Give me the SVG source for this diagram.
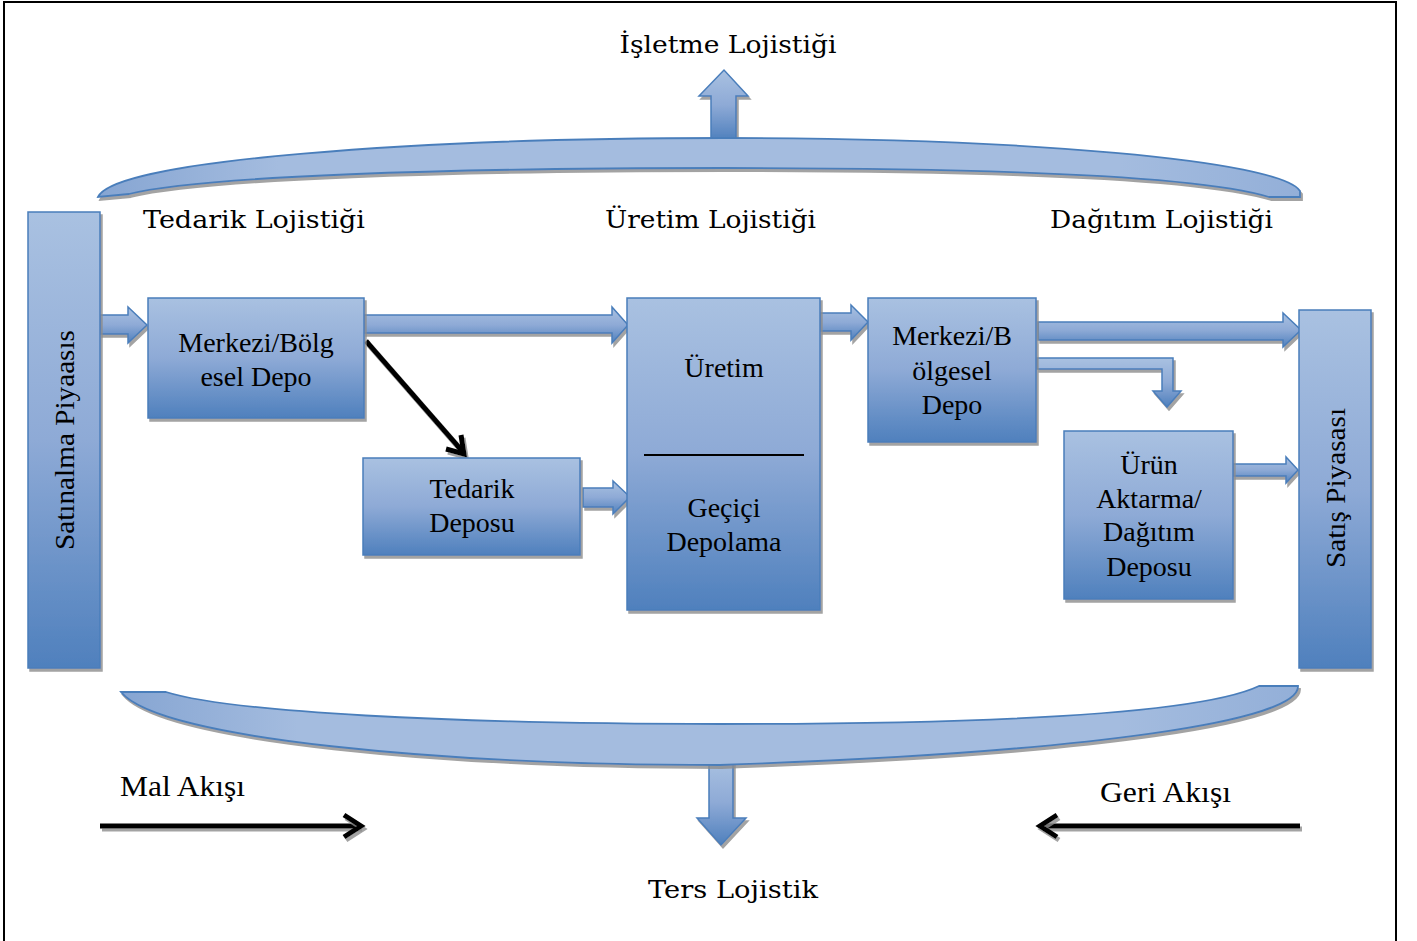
<svg xmlns="http://www.w3.org/2000/svg" width="1417" height="941" viewBox="0 0 1417 941">
  <defs>
    <linearGradient id="blueV" x1="0" y1="0" x2="0" y2="1">
      <stop offset="0" stop-color="#a9c1e1"/>
      <stop offset="0.5" stop-color="#8eaad6"/>
      <stop offset="1" stop-color="#4f80bd"/>
    </linearGradient>
    <linearGradient id="bandGrad" x1="0" y1="0" x2="1" y2="0">
      <stop offset="0" stop-color="#86a5d2"/>
      <stop offset="0.15" stop-color="#a4bcdf"/>
      <stop offset="0.85" stop-color="#a4bcdf"/>
      <stop offset="1" stop-color="#93afd8"/>
    </linearGradient>
    <filter id="shadow" x="-10%" y="-10%" width="130%" height="130%">
      <feOffset in="SourceAlpha" dx="2" dy="3" result="off"/>
      <feGaussianBlur in="off" stdDeviation="0.6" result="blur"/>
      <feFlood flood-color="#8c8c8c" flood-opacity="0.8"/>
      <feComposite in2="blur" operator="in" result="sh"/>
      <feMerge>
        <feMergeNode in="sh"/>
        <feMergeNode in="SourceGraphic"/>
      </feMerge>
    </filter>
    <!-- user-space region so straight horizontal strokes keep their shadow -->
    <filter id="lineShadow" filterUnits="userSpaceOnUse" x="0" y="0" width="1417" height="941">
      <feOffset in="SourceAlpha" dx="2" dy="3" result="off"/>
      <feGaussianBlur in="off" stdDeviation="0.6" result="blur"/>
      <feFlood flood-color="#8c8c8c" flood-opacity="0.8"/>
      <feComposite in2="blur" operator="in" result="sh"/>
      <feMerge>
        <feMergeNode in="sh"/>
        <feMergeNode in="SourceGraphic"/>
      </feMerge>
    </filter>
  </defs>
  <style>
    .box { fill: url(#blueV); stroke: #4a7ebb; stroke-width: 1.5; filter: url(#shadow); }
    .barrow { fill: url(#blueV); stroke: #4a7ebb; stroke-width: 1.5; filter: url(#shadow); }
    .band { fill: url(#bandGrad); stroke: #4a7ebb; stroke-width: 1.8; filter: url(#shadow); }
    .node { font-family: "Liberation Serif", "Times New Roman", serif; font-size: 28px; fill: #000; text-anchor: middle; }
    .title { font-family: "DejaVu Serif", "Liberation Serif", serif; font-size: 25px; fill: #000; }
    .flow { font-family: "Liberation Serif", serif; font-size: 29px; fill: #000; }
    .black { stroke: #000; stroke-width: 5; fill: none; filter: url(#lineShadow); }
  </style>

  <rect width="1417" height="941" fill="#fff"/>
  <!-- frame -->
  <path d="M4,945 L4,2 L1396,2 L1396,945" fill="none" stroke="#000" stroke-width="2"/>

  <!-- upper logistics band with arrow -->
  <g id="isletme">
    <path class="barrow" d="M711,140 L711,96 L699,96 L724,70 L748,96 L736,96 L736,140 Z"/>
    <path class="band" d="M98,197 C115,160 420,138 724,138 C1020,138 1280,160 1300,191 L1300,197 L1269,197 C1200,176 1000,168 724,168 C450,168 200,176 129,194 Z"/>
    <text class="title" x="728" y="53" text-anchor="middle" textLength="217" lengthAdjust="spacingAndGlyphs">İşletme Lojistiği</text>
  </g>

  <!-- section headings -->
  <text class="title" x="143" y="228" textLength="222" lengthAdjust="spacingAndGlyphs">Tedarik Lojistiği</text>
  <text class="title" x="605" y="228" textLength="211" lengthAdjust="spacingAndGlyphs">Üretim Lojistiği</text>
  <text class="title" x="1050" y="228" textLength="223" lengthAdjust="spacingAndGlyphs">Dağıtım Lojistiği</text>

  <!-- connectors -->
  <g id="connectors">
    <path class="barrow" d="M100,315 L128,315 L128,307 L147,325 L128,343 L128,334 L100,334 Z"/>
    <path class="barrow" d="M364,315 L612,315 L612,307 L628,325 L612,343 L612,333 L364,333 Z"/>
    <path class="barrow" d="M583,488 L613,488 L613,481 L630,497 L613,514 L613,507 L583,507 Z"/>
    <path class="barrow" d="M820,313 L851,313 L851,305 L868,322 L851,340 L851,331 L820,331 Z"/>
    <path class="barrow" d="M1038,322 L1283,322 L1283,313 L1301,330 L1283,347 L1283,340 L1038,340 Z"/>
    <path class="barrow" d="M1037,358 L1173,358 L1173,391 L1181,391 L1167,407 L1153,391 L1162,391 L1162,369 L1037,369 Z"/>
    <path class="barrow" d="M1233,464 L1286,464 L1286,457 L1298,470 L1286,483 L1286,476 L1233,476 Z"/>
    <path class="black" d="M366,341 L463,452"/>
    <path class="black" d="M446,449 L464,454 L461,435"/>
  </g>

  <!-- markets -->
  <g id="satinalma">
    <rect class="box" x="28" y="212" width="72" height="456"/>
    <text class="node" transform="translate(74,440) rotate(-90)" textLength="220" lengthAdjust="spacingAndGlyphs">Satınalma Piyaasıs</text>
  </g>
  <g id="satis">
    <rect class="box" x="1299" y="310" width="72" height="358"/>
    <text class="node" transform="translate(1345,488) rotate(-90)" textLength="160" lengthAdjust="spacingAndGlyphs">Satış Piyasası</text>
  </g>

  <!-- storage and production nodes -->
  <g id="merkezi1">
    <rect class="box" x="148" y="298" width="216" height="120"/>
    <text class="node" x="256" y="352">Merkezi/Bölg</text>
    <text class="node" x="256" y="386">esel Depo</text>
  </g>
  <g id="tedarik">
    <rect class="box" x="363" y="458" width="217" height="97"/>
    <text class="node" x="472" y="498">Tedarik</text>
    <text class="node" x="472" y="532">Deposu</text>
  </g>
  <g id="uretim">
    <rect class="box" x="627" y="298" width="193" height="312"/>
    <text class="node" x="724" y="377">Üretim</text>
    <line x1="644" y1="455" x2="804" y2="455" stroke="#000" stroke-width="2"/>
    <text class="node" x="724" y="517">Geçiçi</text>
    <text class="node" x="724" y="551">Depolama</text>
  </g>
  <g id="merkezi2">
    <rect class="box" x="868" y="298" width="168" height="144"/>
    <text class="node" x="952" y="345">Merkezi/B</text>
    <text class="node" x="952" y="380">ölgesel</text>
    <text class="node" x="952" y="414">Depo</text>
  </g>
  <g id="urun">
    <rect class="box" x="1064" y="431" width="169" height="168"/>
    <text class="node" x="1149" y="474">Ürün</text>
    <text class="node" x="1149" y="508">Aktarma/</text>
    <text class="node" x="1149" y="541">Dağıtım</text>
    <text class="node" x="1149" y="576">Deposu</text>
  </g>

  <!-- reverse logistics band with arrow -->
  <g id="ters">
    <path class="barrow" d="M709,760 L709,818 L697,818 L721,845 L746,818 L733,818 L733,760 Z"/>
    <path class="band" d="M121,692 L166,692 C230,712 450,724 720,724 C1000,724 1200,714 1259,686 L1298,686 C1300,720 1100,752 720,765 C450,765 160,740 121,692 Z"/>
    <text class="title" x="733" y="898" text-anchor="middle" textLength="170" lengthAdjust="spacingAndGlyphs">Ters Lojistik</text>
  </g>

  <!-- flow direction legend -->
  <g id="mal">
    <text class="flow" x="120" y="796" textLength="125" lengthAdjust="spacingAndGlyphs">Mal Akışı</text>
    <path class="black" d="M100,826 L360,826"/>
    <path class="black" d="M344,815 L361,826 L344,837"/>
  </g>
  <g id="geri">
    <text class="flow" x="1100" y="802" textLength="131" lengthAdjust="spacingAndGlyphs">Geri Akışı</text>
    <path class="black" d="M1300,826 L1041,826"/>
    <path class="black" d="M1057,815 L1040,826 L1057,837"/>
  </g>
</svg>
